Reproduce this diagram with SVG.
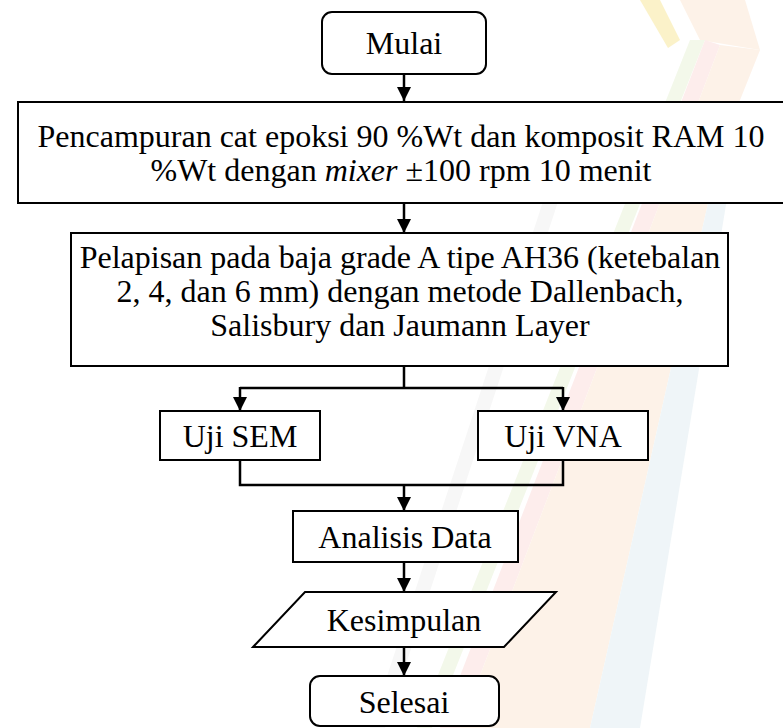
<svg xmlns="http://www.w3.org/2000/svg" width="783" height="728" viewBox="0 0 783 728">
<style>
.box{fill:#fff;stroke:#000;stroke-width:2}
.t{font-family:"Liberation Serif","Times New Roman",serif;font-size:32px;fill:#000;text-anchor:middle}
.c{fill:none;stroke:#000;stroke-width:2.5}
</style>
<defs>
<marker id="ah" viewBox="0 0 14 14" refX="14" refY="7" markerWidth="14" markerHeight="14" markerUnits="userSpaceOnUse" orient="auto">
<path d="M0,0 L14,7 L0,14 z" fill="#000"/>
</marker>
</defs>
<rect width="783" height="728" fill="#fff"/>
<g id="watermark" opacity="0.9">
<polygon points="640,0 660,0 680,40 668,48" fill="#fbf1c4"/>
<polygon points="680,0 745,0 760,50 700,40" fill="#fdf1e6"/>
<polygon points="560,150 575,150 385,728 370,728" fill="#f7f7f7"/>
<polygon points="690,40 705,40 432,728 417,728" fill="#f2f8e8"/>
<polygon points="705,40 720,45 460,728 440,728" fill="#fdeceb"/>
<polygon points="720,45 760,50 720,150 590,728 460,728" fill="#fdf1e6"/>
<polygon points="720,150 735,150 640,728 590,728" fill="#eef5f8"/>
</g>
<g id="connectors">
<path class="c" d="M404,74 V101" marker-end="url(#ah)"/>
<path class="c" d="M404,203 V233" marker-end="url(#ah)"/>
<path class="c" d="M404,366 V388 M240,388 H563"/>
<path class="c" d="M240,387 V411" marker-end="url(#ah)"/>
<path class="c" d="M563,387 V411" marker-end="url(#ah)"/>
<path class="c" d="M240,460 V485 H563 V460"/>
<path class="c" d="M404,485 V511" marker-end="url(#ah)"/>
<path class="c" d="M404,562 V592" marker-end="url(#ah)"/>
<path class="c" d="M404,647 V676" marker-end="url(#ah)"/>
</g>
<g id="mulai">
<rect class="box" x="322" y="12" width="164" height="62" rx="10"/>
<text class="t" x="404" y="54">Mulai</text>
</g>
<g id="pencampuran">
<rect class="box" x="18" y="102" width="780" height="101"/>
<text class="t" x="401" y="147">Pencampuran cat epoksi 90 %Wt dan komposit RAM 10</text>
<text class="t" x="401" y="181">%Wt dengan <tspan font-style="italic">mixer</tspan> ±100 rpm 10 menit</text>
</g>
<g id="pelapisan">
<rect class="box" x="71" y="233" width="657" height="133"/>
<text class="t" x="400" y="268">Pelapisan pada baja grade A tipe AH36 (ketebalan</text>
<text class="t" x="400" y="302">2, 4, dan 6 mm) dengan metode Dallenbach,</text>
<text class="t" x="400" y="336">Salisbury dan Jaumann Layer</text>
</g>
<g id="ujisem">
<rect class="box" x="160" y="411" width="160" height="49"/>
<text class="t" x="240" y="447">Uji SEM</text>
</g>
<g id="ujivna">
<rect class="box" x="478" y="411" width="170" height="49"/>
<text class="t" x="563" y="447">Uji VNA</text>
</g>
<g id="analisis">
<rect class="box" x="293" y="511" width="225" height="51"/>
<text class="t" x="405" y="548">Analisis Data</text>
</g>
<g id="kesimpulan">
<polygon class="box" points="305,592 556,592 504,647 253,647"/>
<text class="t" x="404" y="631">Kesimpulan</text>
</g>
<g id="selesai">
<rect class="box" x="310" y="676" width="189" height="50" rx="10"/>
<text class="t" x="404" y="713">Selesai</text>
</g>
</svg>
